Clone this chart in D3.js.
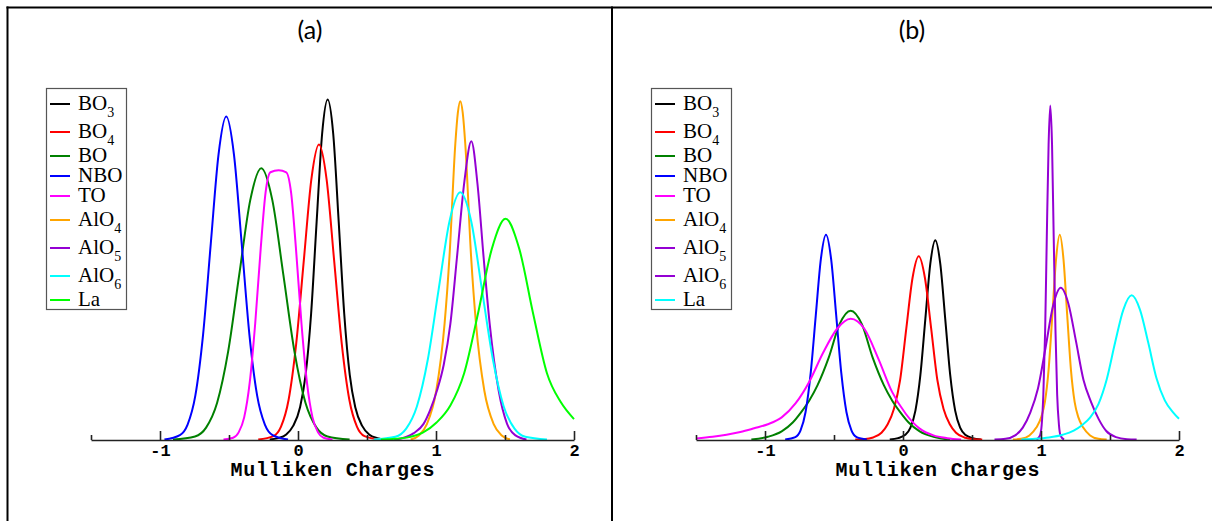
<!DOCTYPE html>
<html>
<head>
<meta charset="utf-8">
<script src="https://cdn.jsdelivr.net/npm/d3@7"></script>
<style>
  html, body { margin: 0; padding: 0; background: #fff; }
  svg { display: block; }
</style>
</head>
<body>
<svg id="chart" width="1212" height="521"></svg>
<script>
// ---------------- DATA ----------------
const panelTitles = ["(a)", "(b)"];
const axisTitle = "Mulliken Charges";
const xDomain = [-1.5, 2];
const majorTicks = [-1, 0, 1, 2];
const minorTicks = [-1.5, -0.5, 0.5, 1.5];
const tickLabels = ["-1", "0", "1", "2"];

const seriesA = ["BO3", "BO4", "BO", "NBO", "TO", "AlO4", "AlO5", "AlO6", "La"];
const seriesB = ["BO3", "BO4", "BO", "NBO", "TO", "AlO4", "AlO5", "AlO6", "La"];

// Panel (a) curves: charge values (x) and relative distribution height (y)
const aBO3_x = [-0.205, -0.145, -0.085, -0.035, 0.015, 0.055, 0.095, 0.135, 0.175, 0.215, 0.255, 0.295, 0.335, 0.375, 0.415, 0.465, 0.515, 0.575, 0.635];
const aBO3_y = [0, 0.4, 1.5, 4, 9.5, 19, 37, 64, 90, 100, 90, 64, 37, 19, 9.5, 4, 1.5, 0.4, 0];
const aBO4_x = [-0.288, -0.178, -0.123, -0.068, -0.013, 0.042, 0.097, 0.152, 0.207, 0.262, 0.317, 0.372, 0.427, 0.482, 0.592];
const aBO4_y = [0, 1.0, 3.8, 11.7, 28.2, 52.6, 76.6, 86.8, 76.6, 52.6, 28.2, 11.7, 3.8, 1.0, 0];
const aBO_x = [-0.906, -0.746, -0.666, -0.586, -0.506, -0.426, -0.346, -0.266, -0.186, -0.106, -0.026, 0.054, 0.134, 0.214, 0.374];
const aBO_y = [0, 0.9, 3.5, 10.8, 25.9, 48.4, 70.4, 79.8, 70.4, 48.4, 25.9, 10.8, 3.5, 0.9, 0];
const aNBO_x = [-0.968, -0.856, -0.80, -0.744, -0.688, -0.632, -0.576, -0.52, -0.464, -0.408, -0.352, -0.296, -0.24, -0.184, -0.072];
const aNBO_y = [0, 1.3, 4.4, 12.9, 30.8, 57.6, 83.8, 95, 83.8, 57.6, 30.8, 12.9, 4.4, 1.3, 0];
const aTO_x = [-0.54, -0.47, -0.43, -0.39, -0.35, -0.31, -0.27, -0.235, -0.20, -0.14, -0.085, -0.05, -0.015, 0.025, 0.065, 0.105, 0.145, 0.185, 0.25];
const aTO_y = [0, 0.5, 2.1, 6.5, 16.7, 34.2, 56.3, 72.6, 78.6, 79.2, 78.6, 72.6, 56.3, 34.2, 16.7, 6.5, 2.1, 0.5, 0];
const aAlO4_x = [0.816, 0.876, 0.935, 1.002, 1.062, 1.098, 1.140, 1.158, 1.176, 1.194, 1.212, 1.254, 1.290, 1.350, 1.417, 1.476, 1.536];
const aAlO4_y = [0, 1.2, 4.6, 14.4, 34, 54, 87, 96, 99.5, 96, 87, 54, 34, 14.4, 4.6, 1.2, 0];
const aAlO5_x = [0.696, 0.746, 0.836, 0.910, 0.956, 1.007, 1.056, 1.104, 1.152, 1.206, 1.256, 1.301, 1.345, 1.389, 1.454, 1.515, 1.576, 1.656];
const aAlO5_y = [0, 0.3, 1.8, 4.6, 8.5, 14.4, 22, 34, 53.6, 76, 87.7, 75, 53.6, 34, 14.4, 4.6, 1.2, 0];
const aAlO6_x = [0.548, 0.705, 0.784, 0.862, 0.941, 1.019, 1.098, 1.176, 1.255, 1.333, 1.412, 1.490, 1.569, 1.647, 1.804];
const aAlO6_y = [0, 0.8, 3.2, 9.8, 23.6, 44.1, 64.2, 72.7, 64.2, 44.1, 23.6, 9.8, 3.2, 0.8, 0];
const aLa_x = [0.60, 0.704, 0.804, 0.904, 1.004, 1.104, 1.204, 1.304, 1.404, 1.504, 1.604, 1.704, 1.804, 1.904, 2.0];
const aLa_y = [0, 0.2, 0.7, 2, 5, 10, 19.5, 37, 56, 64.9, 56, 37, 19.5, 11, 6];

// Panel (b) curves
const bBO3_x = [-0.096, -0.036, 0.014, 0.054, 0.090, 0.126, 0.162, 0.198, 0.234, 0.270, 0.306, 0.342, 0.378, 0.414, 0.454, 0.504, 0.564];
const bBO3_y = [0, 0.4, 1.3, 3.5, 8.5, 19, 35.5, 51.7, 58.6, 51.7, 35.5, 19, 8.5, 3.5, 1.3, 0.4, 0];
const bBO4_x = [-0.346, -0.286, -0.216, -0.156, -0.111, -0.066, -0.021, 0.024, 0.069, 0.114, 0.159, 0.204, 0.249, 0.294, 0.339, 0.384, 0.444, 0.514, 0.574];
const bBO4_y = [0, 0.1, 0.6, 2, 4.5, 9, 17.5, 32.7, 47.5, 53.9, 47.5, 32.7, 17.5, 9, 4.5, 2, 0.6, 0.1, 0];
const bBO_x = [-1.099, -0.979, -0.879, -0.799, -0.739, -0.679, -0.619, -0.539, -0.459, -0.379, -0.299, -0.219, -0.139, -0.079, -0.019, 0.041, 0.121, 0.221, 0.341];
const bBO_y = [0, 0.8, 2.4, 5, 8, 11.5, 16, 24, 34, 37.9, 34, 24, 16, 11.5, 8, 5, 2.4, 0.8, 0];
const bNBO_x = [-0.854, -0.78, -0.743, -0.706, -0.669, -0.632, -0.595, -0.558, -0.521, -0.484, -0.447, -0.41, -0.373, -0.336, -0.262];
const bNBO_y = [0, 0.7, 2.6, 8.1, 19.5, 36.5, 53.1, 60.2, 53.1, 36.5, 19.5, 8.1, 2.6, 0.7, 0];
const bTO_x = [-1.499, -1.379, -1.279, -1.179, -1.079, -0.979, -0.879, -0.779, -0.679, -0.579, -0.479, -0.379, -0.279, -0.179, -0.079, 0.021, 0.121, 0.221, 0.321, 0.421];
const bTO_y = [0.3, 0.8, 1.4, 2.2, 3.3, 4.5, 6.5, 10.6, 17, 25.5, 32.5, 35.5, 32.5, 23.8, 14, 7.5, 3.2, 1.2, 0.4, 0];
const bAlO4_x = [0.796, 0.856, 0.916, 0.966, 1.001, 1.028, 1.055, 1.082, 1.109, 1.136, 1.163, 1.190, 1.217, 1.244, 1.271, 1.306, 1.356, 1.416, 1.476];
const bAlO4_y = [0, 0.2, 1.2, 3.5, 6.5, 11, 20.5, 36.5, 53, 60.2, 53, 36.5, 20.5, 11, 6.5, 3.5, 1.2, 0.2, 0];
const bAlO5_x = [0.967, 0.992, 1.005, 1.017, 1.030, 1.042, 1.055, 1.067, 1.080, 1.092, 1.105, 1.117, 1.130, 1.142, 1.167];
const bAlO5_y = [0, 1.1, 4.3, 13.3, 31.9, 59.6, 86.7, 98.2, 86.7, 59.6, 31.9, 13.3, 4.3, 1.1, 0];
const bAlO6_x = [0.663, 0.743, 0.813, 0.868, 0.923, 0.978, 1.033, 1.088, 1.143, 1.198, 1.253, 1.308, 1.363, 1.418, 1.473, 1.543, 1.623, 1.693];
const bAlO6_y = [0, 0.2, 1.2, 3.5, 8, 15, 27, 39.4, 44.6, 40, 29, 17.5, 11, 6, 2.5, 0.7, 0.1, 0];
const bLa_x = [0.857, 0.957, 1.057, 1.157, 1.237, 1.297, 1.357, 1.417, 1.477, 1.537, 1.597, 1.657, 1.717, 1.777, 1.837, 1.897, 1.957, 2.0];
const bLa_y = [0, 0.2, 0.6, 1.4, 2.6, 4.2, 6.5, 10.5, 17.8, 28.5, 38.2, 42.4, 38.2, 28.5, 18, 11.5, 8, 6.1];

// ---------------- STYLE ----------------
const colorsA = ["#000000", "#ff0000", "#008000", "#0000ff", "#ff00ff", "#ffa500", "#9400d3", "#00ffff", "#00ff00"];
const colorsB = ["#000000", "#ff0000", "#008000", "#0000ff", "#ff00ff", "#ffa500", "#9400d3", "#9400d3", "#00ffff"];

const curvesA = [[aBO3_x, aBO3_y], [aBO4_x, aBO4_y], [aBO_x, aBO_y], [aNBO_x, aNBO_y], [aTO_x, aTO_y],
                 [aAlO4_x, aAlO4_y], [aAlO5_x, aAlO5_y], [aAlO6_x, aAlO6_y], [aLa_x, aLa_y]];
const curvesB = [[bBO3_x, bBO3_y], [bBO4_x, bBO4_y], [bBO_x, bBO_y], [bNBO_x, bNBO_y], [bTO_x, bTO_y],
                 [bAlO4_x, bAlO4_y], [bAlO5_x, bAlO5_y], [bAlO6_x, bAlO6_y], [bLa_x, bLa_y]];

const svg = d3.select("#chart");

// Outer table frame
svg.append("line").attr("x1", 6.5).attr("x2", 1212).attr("y1", 7.5).attr("y2", 7.5)
   .attr("stroke", "#000").attr("stroke-width", 2);
svg.append("line").attr("x1", 7.5).attr("x2", 7.5).attr("y1", 6.5).attr("y2", 521)
   .attr("stroke", "#000").attr("stroke-width", 2);
svg.append("line").attr("x1", 612).attr("x2", 612).attr("y1", 6.5).attr("y2", 521)
   .attr("stroke", "#000").attr("stroke-width", 2);

const yScale = d3.scaleLinear().domain([0, 100]).range([439.5, 99.5]);
const monoFont = "'Liberation Mono', 'DejaVu Sans Mono', monospace";

function drawPanel(opts) {
  const { x0, x1, names, colors, curves, title, titleX, legendX } = opts;
  const g = svg.append("g");
  const xScale = d3.scaleLinear().domain(xDomain).range([x0, x1]);

  g.append("text").attr("x", titleX).attr("y", 39)
    .attr("text-anchor", "middle")
    .attr("font-family", "Lato, 'Open Sans', sans-serif")
    .attr("font-size", 25).attr("fill", "#000").text(title);

  const line = d3.line()
    .x(d => xScale(d[0]))
    .y(d => yScale(d[1]))
    .curve(d3.curveMonotoneX);

  curves.forEach((c, i) => {
    const pts = c[0].map((xv, k) => [xv, c[1][k]]);
    g.append("path").datum(pts)
      .attr("d", line)
      .attr("fill", "none")
      .attr("stroke", colors[i])
      .attr("stroke-width", 2)
      .attr("stroke-linejoin", "round");
  });

  // axis
  const axisY = 440;
  const major = d3.axisBottom(xScale).tickValues(majorTicks)
    .tickSizeInner(-9).tickSizeOuter(0).tickPadding(4)
    .tickFormat((d, i) => tickLabels[i]);
  const ag = g.append("g").attr("transform", `translate(0,${axisY})`).call(major);
  ag.attr("font-size", 17).attr("font-family", monoFont).attr("font-weight", "bold");
  ag.select(".domain").attr("stroke", "#222").attr("stroke-width", 1.6);
  ag.selectAll(".tick line").attr("stroke", "#222").attr("stroke-width", 1.6);
  ag.selectAll(".tick text")
    .style("font-family", monoFont)
    .style("font-weight", "bold").style("font-size", "17px").attr("fill", "#000");

  const minor = d3.axisBottom(xScale).tickValues(minorTicks)
    .tickSizeInner(-5).tickSizeOuter(0).tickFormat("");
  const mg = g.append("g").attr("transform", `translate(0,${axisY})`).call(minor);
  mg.select(".domain").remove();
  mg.selectAll(".tick line").attr("stroke", "#222").attr("stroke-width", 1.6);

  g.append("text")
    .attr("x", (x0 + x1) / 2).attr("y", 476)
    .attr("text-anchor", "middle")
    .style("font-family", monoFont)
    .style("font-weight", "bold").style("font-size", "20px").attr("fill", "#000")
    .attr("textLength", 204).attr("lengthAdjust", "spacing")
    .text(axisTitle);

  // legend
  const lg = g.append("g");
  lg.append("rect").attr("x", legendX + 0.5).attr("y", 88.5).attr("width", 80).attr("height", 221)
    .attr("fill", "#fff").attr("stroke", "#555").attr("stroke-width", 1.2);
  let yy = 104;
  let prevSub = false;
  names.forEach((name, i) => {
    const m = name.match(/^(\D+)(\d*)$/);
    const hasSub = m[2].length > 0;
    if (i > 0) yy += 20 + (prevSub ? 4 : 0) + (hasSub ? 4 : 0);
    lg.append("line").attr("x1", legendX + 4).attr("x2", legendX + 24)
      .attr("y1", yy).attr("y2", yy).attr("stroke", colors[i]).attr("stroke-width", 2);
    const t = lg.append("text").attr("x", legendX + 32).attr("y", yy + 5.5)
      .attr("font-family", "'Liberation Serif', 'Times New Roman', serif")
      .attr("font-size", 21).attr("fill", "#000");
    t.append("tspan").text(m[1]);
    if (hasSub) t.append("tspan").attr("dy", 7).attr("font-size", 14).text(m[2]);
    prevSub = hasSub;
  });
}

drawPanel({ x0: 91, x1: 574, names: seriesA, colors: colorsA, curves: curvesA,
            title: panelTitles[0], titleX: 310, legendX: 46 });
drawPanel({ x0: 696, x1: 1179, names: seriesB, colors: colorsB, curves: curvesB,
            title: panelTitles[1], titleX: 912, legendX: 651 });
</script>
</body>
</html>
